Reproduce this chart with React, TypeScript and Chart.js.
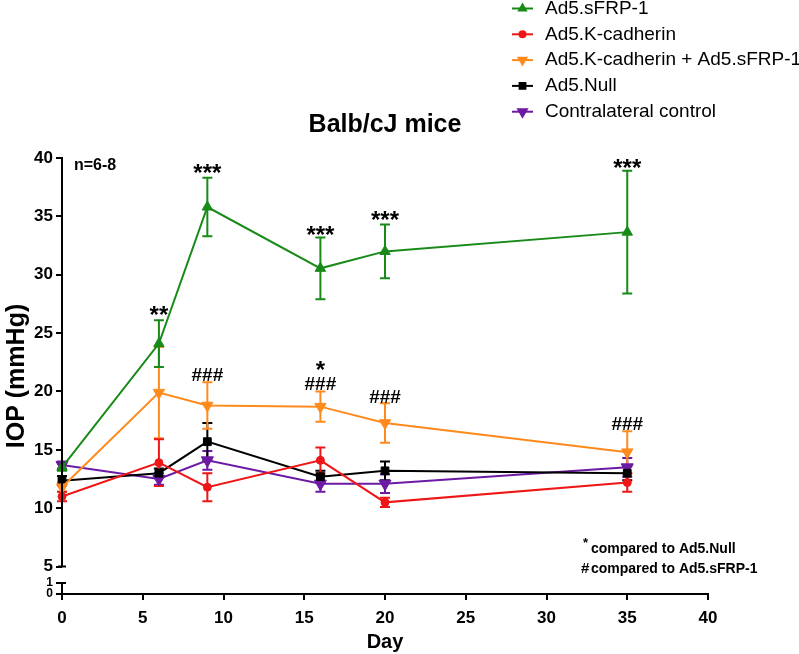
import React, { useEffect, useRef } from 'react';
import { Chart, registerables } from 'chart.js';

Chart.register(...registerables);

const FONT = '"Liberation Sans", Arial, Helvetica, sans-serif';

// ---- data ----
const days = [0, 6, 9, 16, 20, 35];

const sfrpMean = [13.5, 24.1, 35.8, 30.55, 32.0, 33.65];
const sfrpErr = [0.3, 2.0, 2.5, 2.65, 2.3, 5.25];

const kcadMean = [11.0, 13.9, 11.8, 14.1, 10.5, 12.2];
const kcadErr = [0.4, 2.0, 1.2, 1.1, 0.4, 0.8];

const comboMean = [11.8, 19.9, 18.8, 18.7, 17.3, 14.8];
const comboErr = [0.4, 3.9, 2.0, 1.3, 1.7, 1.8];

const nullMean = [12.35, 13.0, 15.7, 12.7, 13.2, 13.0];
const nullErr = [0.4, 0.4, 1.6, 0.5, 0.8, 0.6];

const contraMean = [13.7, 12.5, 14.1, 12.1, 12.1, 13.5];
const contraErr = [0.3, 0.5, 0.8, 0.7, 0.8, 0.8];

const seriesNames = [
  'Ad5.sFRP-1',
  'Ad5.K-cadherin',
  'Ad5.K-cadherin + Ad5.sFRP-1',
  'Ad5.Null',
  'Contralateral control',
];

const xTicks = [0, 5, 10, 15, 20, 25, 30, 35, 40];
const yTicks = [5, 10, 15, 20, 25, 30, 35, 40];
// axis break: "0" and "1" sit below the break
const Y_ZERO = 2.65;
const Y_ONE = 3.6;

// significance labels: day, value (visual centre), text
const sigDays = [6, 9, 16, 20, 35, 16, 9, 16, 20, 35];
const sigValues = [27.0, 39.14, 33.83, 35.12, 39.57, 22.26, 21.49, 20.72, 19.61, 17.29];
const sigTexts = ['**', '***', '***', '***', '***', '*', '###', '###', '###', '###'];

// ---- styles ----
const series = [
  { name: seriesNames[0], mean: sfrpMean, err: sfrpErr, color: '#178a17', style: 'triangle', rot: 0, r: 6 },
  { name: seriesNames[1], mean: kcadMean, err: kcadErr, color: '#ee1616', style: 'circle', rot: 0, r: 4 },
  { name: seriesNames[2], mean: comboMean, err: comboErr, color: '#ff8a1c', style: 'triangle', rot: 180, r: 6.5 },
  { name: seriesNames[3], mean: nullMean, err: nullErr, color: '#000000', style: 'rect', rot: 0, r: 5.5 },
  { name: seriesNames[4], mean: contraMean, err: contraErr, color: '#6c1aa3', style: 'triangle', rot: 180, r: 7 },
];

function drawMarker(ctx: CanvasRenderingContext2D, style: string, rot: number, r: number, x: number, y: number) {
  ctx.beginPath();
  if (style === 'triangle') {
    const dir = rot === 180 ? -1 : 1;
    ctx.moveTo(x, y - dir * r);
    ctx.lineTo(x + r * 0.866, y + dir * r * 0.5);
    ctx.lineTo(x - r * 0.866, y + dir * r * 0.5);
    ctx.closePath();
  } else if (style === 'circle') {
    ctx.arc(x, y, r, 0, Math.PI * 2);
  } else {
    const s = r * Math.SQRT1_2;
    ctx.rect(x - s, y - s, 2 * s, 2 * s);
  }
  ctx.fill();
}

const errorBarPlugin = {
  id: 'errorBars',
  beforeDatasetsDraw(chart: any) {
    const { ctx, scales } = chart;
    const x = scales.x;
    const y = scales.y;
    ctx.save();
    for (let i = series.length - 1; i >= 0; i--) {
      const s = series[i];
      ctx.strokeStyle = s.color;
      ctx.lineWidth = 2;
      days.forEach((d, j) => {
        const px = x.getPixelForValue(d);
        const top = y.getPixelForValue(s.mean[j] + s.err[j]);
        const bot = y.getPixelForValue(s.mean[j] - s.err[j]);
        ctx.beginPath();
        ctx.moveTo(px, top);
        ctx.lineTo(px, bot);
        ctx.moveTo(px - 5, top);
        ctx.lineTo(px + 5, top);
        ctx.moveTo(px - 5, bot);
        ctx.lineTo(px + 5, bot);
        ctx.stroke();
      });
    }
    ctx.restore();
  },
};

const decorPlugin = {
  id: 'decor',
  afterDraw(chart: any) {
    const { ctx, scales, chartArea } = chart;
    const x = scales.x;
    const y = scales.y;
    ctx.save();
    // broken y axis
    const ax = chartArea.left;
    ctx.strokeStyle = '#000';
    ctx.lineWidth = 2;
    ctx.beginPath();
    ctx.moveTo(ax, y.getPixelForValue(40) - 1);
    ctx.lineTo(ax, y.getPixelForValue(5));
    ctx.moveTo(ax - 4, y.getPixelForValue(5));
    ctx.lineTo(ax + 4, y.getPixelForValue(5));
    ctx.moveTo(ax, y.getPixelForValue(Y_ONE));
    ctx.lineTo(ax, y.getPixelForValue(Y_ZERO));
    ctx.moveTo(ax - 4, y.getPixelForValue(Y_ONE));
    ctx.lineTo(ax + 4, y.getPixelForValue(Y_ONE));
    ctx.stroke();

    // significance labels
    ctx.fillStyle = '#000';
    ctx.textAlign = 'center';
    ctx.textBaseline = 'alphabetic';
    sigTexts.forEach((t, i) => {
      const px = x.getPixelForValue(sigDays[i]);
      const cy = y.getPixelForValue(sigValues[i]);
      if (t[0] === '*') {
        ctx.font = `bold 24px ${FONT}`;
        ctx.fillText(t, px, cy + 0.55 * 24);
      } else {
        ctx.font = `bold 19px ${FONT}`;
        ctx.fillText(t, px, cy + 0.36 * 19);
      }
    });

    // n=6-8
    ctx.textAlign = 'left';
    ctx.textBaseline = 'middle';
    ctx.font = `bold 16px ${FONT}`;
    ctx.fillText('n=6-8', 74, 166);

    // footnotes
    ctx.font = `bold 13px ${FONT}`;
    ctx.fillText('*', 583, 543);
    ctx.font = `bold 14px ${FONT}`;
    ctx.fillText('compared to Ad5.Null', 591, 549);
    ctx.font = `bold 15px ${FONT}`;
    ctx.fillText('#', 581, 569);
    ctx.font = `bold 14px ${FONT}`;
    ctx.fillText('compared to Ad5.sFRP-1', 591, 569);

    // legend
    ctx.font = `19px ${FONT}`;
    series.forEach((s, i) => {
      const ly = 8.5 + i * 25.8;
      ctx.strokeStyle = s.color;
      ctx.fillStyle = s.color;
      ctx.lineWidth = 2;
      ctx.beginPath();
      ctx.moveTo(512, ly);
      ctx.lineTo(533, ly);
      ctx.stroke();
      drawMarker(ctx, s.style, s.rot, s.r, 522.5, ly);
      ctx.fillStyle = '#000';
      ctx.fillText(s.name, 545, ly);
    });
    ctx.restore();
  },
};

export default function App() {
  const ref = useRef<HTMLCanvasElement>(null);
  useEffect(() => {
    if (!ref.current) return;
    const chart = new Chart(ref.current, {
      type: 'line',
      data: {
        datasets: series.map((s) => ({
          label: s.name,
          data: days.map((d, i) => ({ x: d, y: s.mean[i] })),
          borderColor: s.color,
          backgroundColor: s.color,
          pointBackgroundColor: s.color,
          pointBorderColor: s.color,
          pointBorderWidth: 1,
          borderWidth: 2,
          pointStyle: s.style as any,
          pointRotation: s.rot,
          pointRadius: s.r,
          tension: 0,
          clip: false as any,
        })),
      },
      options: {
        animation: false,
        responsive: true,
        maintainAspectRatio: false,
        layout: { padding: { top: 110, right: 91, bottom: 0, left: 0 } },
        plugins: {
          legend: { display: false },
          tooltip: { enabled: false },
          title: {
            display: true,
            text: 'Balb/cJ mice',
            fullSize: false,
            color: '#000',
            font: { family: FONT, size: 25, weight: 'bold' },
            padding: { top: 0, bottom: 18 },
          },
        },
        scales: {
          x: {
            type: 'linear',
            min: 0,
            max: 40,
            afterBuildTicks: (s: any) => {
              s.ticks = xTicks.map((v) => ({ value: v }));
            },
            ticks: {
              color: '#000',
              font: { family: FONT, size: 17, weight: 'bold' },
              padding: 8,
              maxRotation: 0,
            },
            grid: { display: true, drawOnChartArea: false, drawTicks: true, tickLength: 6, color: '#000', lineWidth: 2 },
            border: { display: true, color: '#000', width: 2 },
            title: {
              display: true,
              text: 'Day',
              color: '#000',
              font: { family: FONT, size: 20, weight: 'bold' },
              padding: { top: 0, bottom: 0 },
            },
            afterFit: (s: any) => {
              s.height = 60;
            },
          },
          y: {
            type: 'linear',
            min: Y_ZERO,
            max: 40,
            afterBuildTicks: (s: any) => {
              s.ticks = [Y_ZERO, Y_ONE, ...yTicks].map((v) => ({ value: v }));
            },
            ticks: {
              color: '#000',
              padding: 3,
              font: (c: any) => ({
                family: FONT,
                size: c.tick && c.tick.value < 5 ? 12 : 17,
                weight: 'bold',
              }),
              callback: (v: any) => (v === Y_ZERO ? '0' : v === Y_ONE ? '1' : String(v)),
            },
            grid: { display: true, drawOnChartArea: false, drawTicks: true, tickLength: 6, color: '#000', lineWidth: 2 },
            border: { display: false },
            title: {
              display: true,
              text: 'IOP (mmHg)',
              color: '#000',
              font: { family: FONT, size: 25, weight: 'bold' },
              padding: { top: 2, bottom: 0 },
            },
            afterFit: (s: any) => {
              s.width = 62;
            },
          },
        },
      } as any,
      plugins: [errorBarPlugin, decorPlugin],
    });
    return () => chart.destroy();
  }, []);
  return (
    <div style={{ position: 'absolute', left: 0, top: 0, width: 799, height: 654, background: '#fff' }}>
      <canvas ref={ref} />
    </div>
  );
}
